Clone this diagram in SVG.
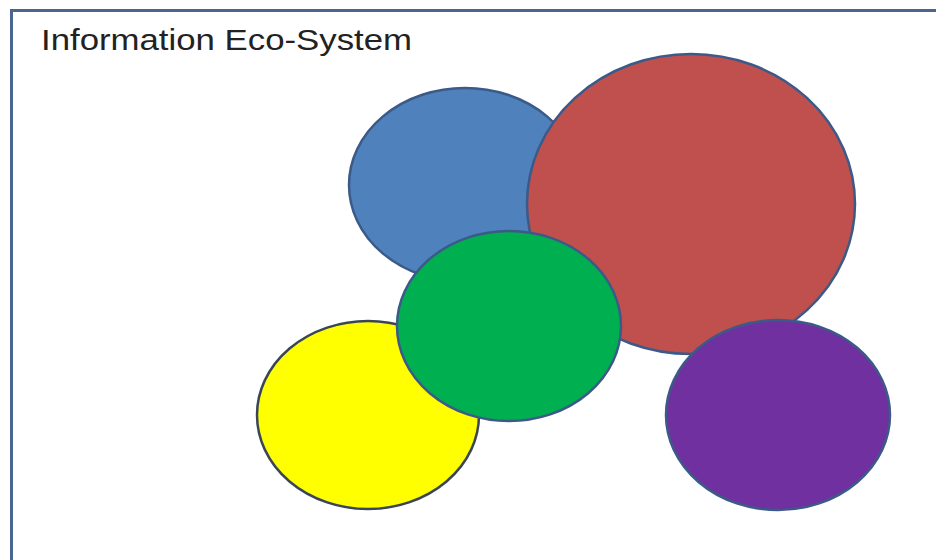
<svg xmlns="http://www.w3.org/2000/svg" width="936" height="560" viewBox="0 0 936 560">
<style>
.n{stroke:#3b5a88;stroke-width:2.5}
.t{font-family:"Liberation Sans",Arial,sans-serif;font-size:30px;fill:#222}
</style>
<rect width="936" height="560" fill="#fff"/>
<path d="M11.5 560 V10.5 H936" fill="none" stroke="#4a6590" stroke-width="3"/>
<text class="t" x="41" y="49.5" textLength="371" lengthAdjust="spacingAndGlyphs">Information Eco-System</text>
<g id="blue"><ellipse class="n" cx="465" cy="185" rx="116" ry="97" fill="#4f81bd"/></g>
<g id="red"><ellipse class="n" cx="691" cy="204" rx="164" ry="150" fill="#c0504d"/></g>
<g id="yellow"><ellipse class="n" cx="368" cy="415" rx="111" ry="94" fill="#ffff00" style="stroke:#3a4658"/></g>
<g id="green"><ellipse class="n" cx="509" cy="326" rx="112" ry="95" fill="#00b050"/></g>
<g id="purple"><ellipse class="n" cx="778" cy="415" rx="112" ry="95" fill="#7030a0"/></g>
<g id="connectors"></g>
</svg>
